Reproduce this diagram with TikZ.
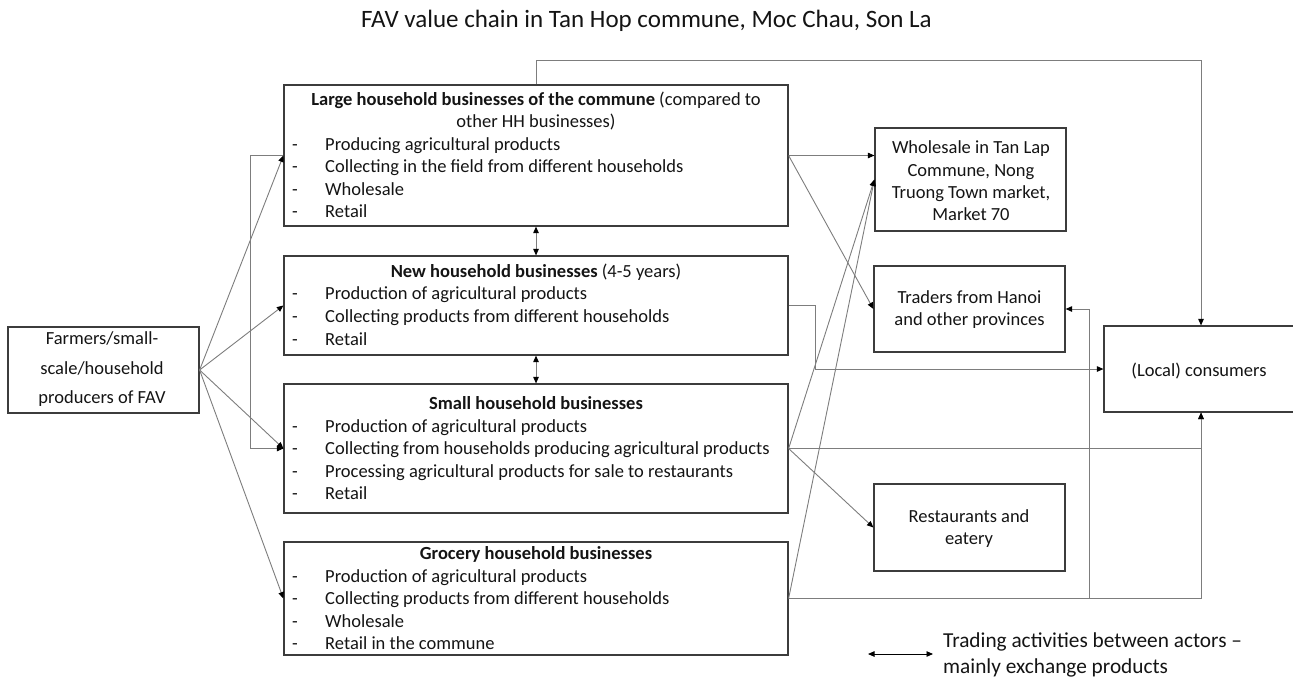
\documentclass[tikz,border=0pt]{standalone}
\usepackage{fontspec}
\setmainfont{Carlito}
\usetikzlibrary{arrows.meta,calc}
\definecolor{boxc}{RGB}{60,60,60}
\definecolor{linec}{RGB}{125,125,125}
\definecolor{txtc}{RGB}{20,20,20}
\newcommand\hdline[3]{\node[txt,anchor=base] (#1) at (#2) {#3};}
\newcommand\buline[3]{\node[txt,anchor=base west] (#1) at (#2) {\makebox[33pt][l]{-}#3};}
\begin{document}
\begin{tikzpicture}[x=1pt,y=-1pt,
 box/.style={draw=boxc,line width=1.2pt,inner sep=0pt},
 txt/.style={inner sep=0pt,text=txtc,font=\fontsize{18.5}{22.4}\selectfont},
 conn/.style={draw=linec,line width=0.9pt},
 arr/.style={-{Triangle[length=6.5pt,width=5.5pt,color=black]}},
 darr/.style={{Triangle[length=6.5pt,width=5.5pt,color=black]}-{Triangle[length=6.5pt,width=5.5pt,color=black]}}
]
\useasboundingbox (0,0) rectangle (1293,681);

\node[font=\fontsize{25}{30}\selectfont,text=txtc,inner sep=0pt,anchor=base] (title) at (646.5,27) {FAV value chain in Tan Hop commune, Moc Chau, Son La};

% boxes
\node[box,minimum width=504pt,minimum height=141pt] (L) at (536,155.5) {};
\node[box,minimum width=504pt,minimum height=99pt] (N) at (536,305.5) {};
\node[box,minimum width=504pt,minimum height=129pt] (S) at (536,448.5) {};
\node[box,minimum width=504pt,minimum height=113pt] (G) at (536,598.5) {};
\node[box,minimum width=191pt,minimum height=86pt] (F) at (103.5,370) {};
\node[box,minimum width=191pt,minimum height=103pt] (W) at (970.5,179.5) {};
\node[box,minimum width=191pt,minimum height=86pt] (T) at (969.5,309) {};
\node[box,minimum width=191pt,minimum height=87pt] (R) at (969.5,527.5) {};
\node[box,minimum width=194pt,minimum height=86pt] (C) at (1201,369) {};

% large
\hdline{L1}{536,105.5}{\textbf{Large household businesses of the commune} (compared to}
\hdline{L2}{536,127.9}{other HH businesses)}
\buline{L3}{292,150.3}{Producing agricultural products}
\buline{L4}{292,172.7}{Collecting in the field from different households}
\buline{L5}{292,195.1}{Wholesale}
\buline{L6}{292,217.5}{Retail}
% new
\hdline{N1}{536,277}{\textbf{New household businesses} (4-5 years)}
\buline{N2}{292,299.8}{Production of agricultural products}
\buline{N3}{292,322.6}{Collecting products from different households}
\buline{N4}{292,345.4}{Retail}
% small
\hdline{S1}{536,409.5}{\textbf{Small household businesses}}
\buline{S2}{292,432}{Production of agricultural products}
\buline{S3}{292,454.5}{Collecting from households producing agricultural products}
\buline{S4}{292,477}{Processing agricultural products for sale to restaurants}
\buline{S5}{292,499.5}{Retail}
% grocery
\hdline{G1}{536,559.5}{\textbf{Grocery household businesses}}
\buline{G2}{292,582}{Production of agricultural products}
\buline{G3}{292,604.5}{Collecting products from different households}
\buline{G4}{292,627}{Wholesale}
\buline{G5}{292,649.5}{Retail in the commune}

\node[txt,align=center,font=\fontsize{18.5}{29.5}\selectfont] (Ft) at (102,369.5) {Farmers/small-\\scale/household\\producers of FAV};
\node[txt,align=center] (Wt) at (971,181) {Wholesale in Tan Lap\\Commune, Nong\\Truong Town market,\\Market 70};
\node[txt,align=center] (Tt) at (969.5,309.5) {Traders from Hanoi\\and other provinces};
\node[txt,align=center] (Rt) at (969,528.5) {Restaurants and\\eatery};
\node[txt] (Ct) at (1199,371) {(Local) consumers};

% connectors
\draw[conn,arr] (L.north) -- ++(0,-24) -| (C.north);
\draw[conn,arr] (F.east) -- (L.west);
\draw[conn,arr] (F.east) -- (N.west);
\draw[conn,arr] (F.east) -- (S.west);
\draw[conn,arr] (F.east) -- (G.west);
\draw[conn,arr] (L.west) -- ++(-33,0) |- (S.west);
\draw[conn,darr] (L.south) -- (N.north);
\draw[conn,darr] (N.south) -- (S.north);
\draw[conn,arr] (L.east) -- (L.east -| W.west);
\draw[conn,arr] (L.east) -- (T.west);
\draw[conn,arr] (N.east) -- ++(27,0) |- (C.west);
\draw[conn,arr] (S.east) -- (W.west);
\draw[conn,arr] (S.east) -- (R.west);
\draw[conn,arr] (S.east) -| (C.south);
\draw[conn,arr] (G.east) -- (W.west);
\draw[conn,arr] (G.east) -| (C.south);
\coordinate (Tj) at (1089,309);
\draw[conn,arr] (G.east) -| (Tj) -- (T.east);

% legend
\coordinate (La) at (868,654);
\coordinate (Lb) at (933,654);
\draw[conn,darr,draw=black] (La) -- (Lb);
\node[txt,align=left,anchor=west,font=\fontsize{21.3}{26}\selectfont] (Lg) at (943,655) {Trading activities between actors –\\mainly exchange products};
\end{tikzpicture}
\end{document}
